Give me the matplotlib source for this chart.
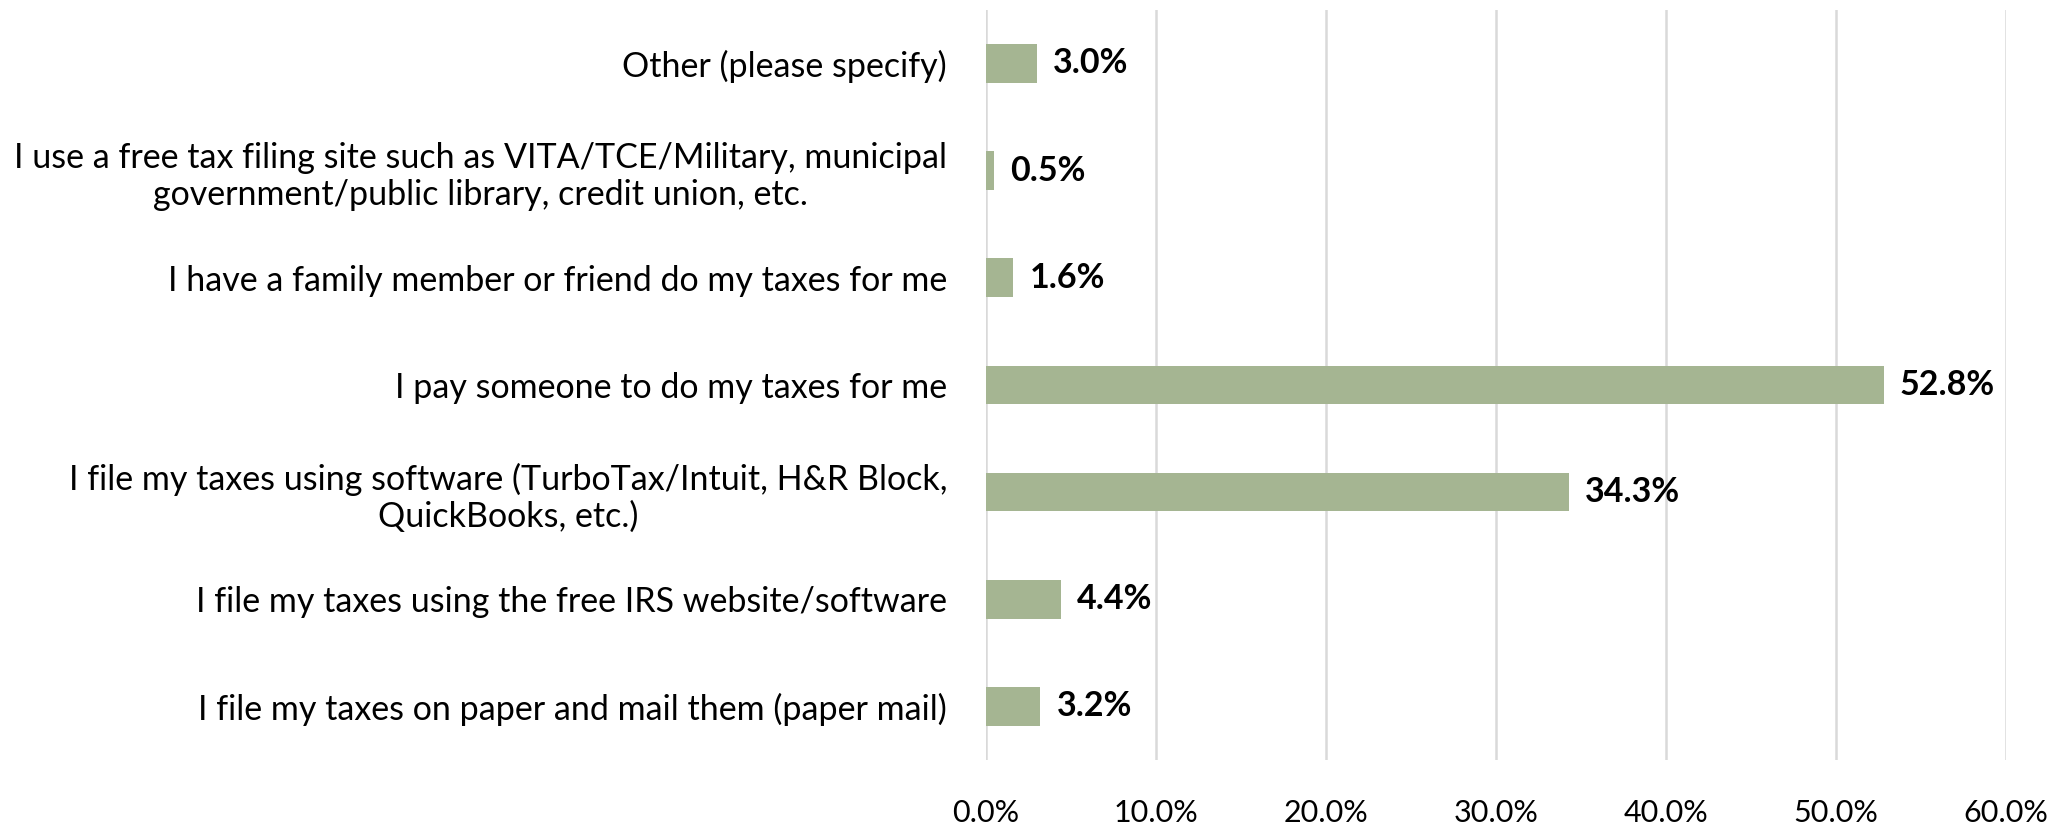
import matplotlib.pyplot as plt
from matplotlib.ticker import FuncFormatter

plt.rcParams['font.family'] = ['Lato', 'DejaVu Sans']

# survey answers, bottom to top
categories = [
    "I file my taxes on paper and mail them (paper mail)",
    "I file my taxes using the free IRS website/software",
    "I file my taxes using software (TurboTax/Intuit, H&R Block,\nQuickBooks, etc.)",
    "I pay someone to do my taxes for me",
    "I have a family member or friend do my taxes for me",
    "I use a free tax filing site such as VITA/TCE/Military, municipal\ngovernment/public library, credit union, etc.",
    "Other (please specify)",
]
shares = [3.2, 4.4, 34.3, 52.8, 1.6, 0.5, 3.0]
xticks = [0, 10, 20, 30, 40, 50, 60]

fig = plt.figure(figsize=(20.7, 8.24), dpi=100)
ax = fig.add_axes([0.4763, 0.0777, 0.4928, 0.9103])

y = range(len(categories))
ax.barh(y, shares, height=0.36, color='#A5B592', zorder=3)

for yi, v in zip(y, shares):
    ax.text(v + 0.95, yi, f"{v:.1f}%", va='center', ha='left',
            fontsize=24.5, fontweight='bold', color='black', zorder=4)

ax.set_xlim(0, 60)
ax.set_ylim(-0.5, len(categories) - 0.5)
ax.set_xticks(xticks)
ax.xaxis.set_major_formatter(FuncFormatter(lambda v, _: f"{v:.1f}%"))
ax.set_yticks(list(y))
ax.set_yticklabels(categories, fontsize=24.5, ha='right', multialignment='center')

ax.grid(axis='x', color='#D9D9D9', linewidth=1.8, zorder=0)
for s in ax.spines.values():
    s.set_visible(False)
ax.tick_params(axis='x', length=0, labelsize=22, pad=28)
ax.tick_params(axis='y', length=0, pad=28)

fig.savefig('out.png', dpi=100, facecolor='white')
